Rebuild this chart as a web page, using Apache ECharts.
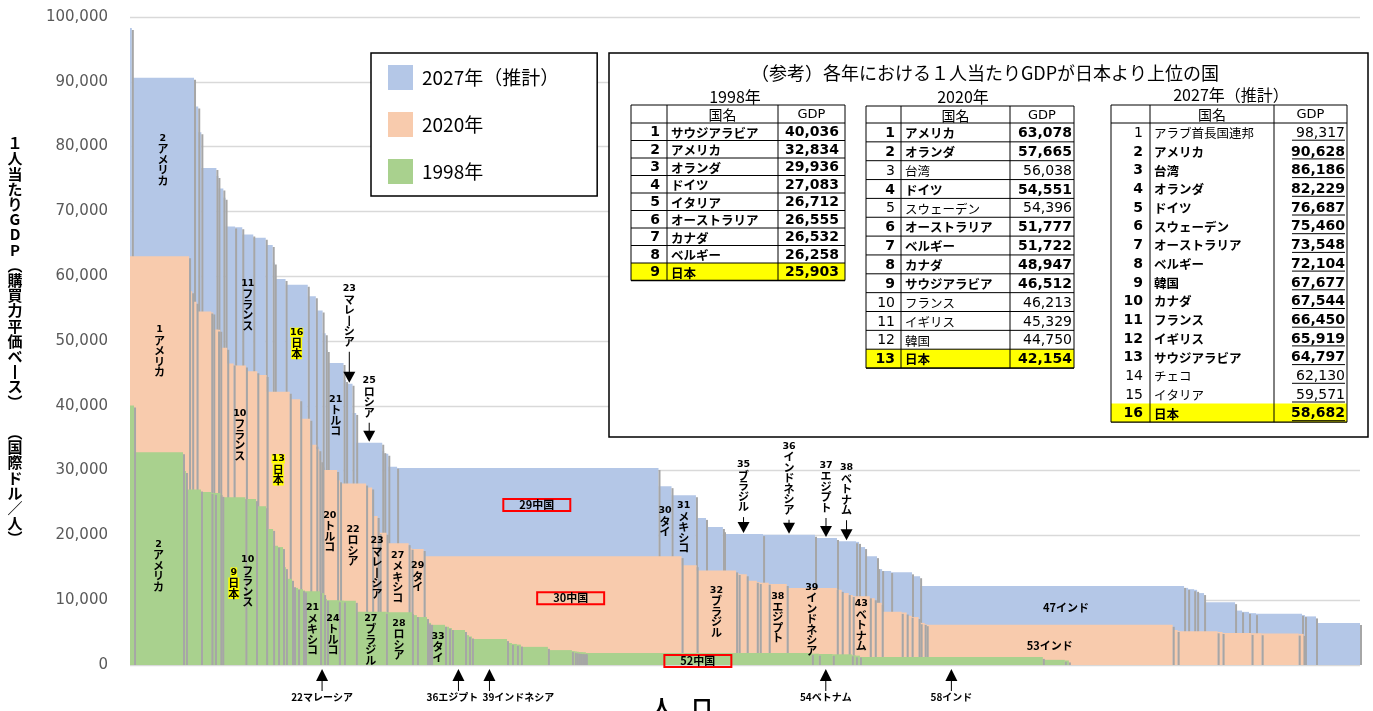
<!DOCTYPE html>
<html>
<head>
<meta charset="utf-8">
<script src="https://cdn.jsdelivr.net/npm/echarts@6/dist/echarts.min.js"></script>
<style>
  html, body { margin: 0; padding: 0; background: #fff; }
  #main { width: 1373px; height: 711px; }
</style>
</head>
<body>
<div id="main"></div>
<script>
// 人口（百万人）と1人当たりGDP（国際ドル）— 各年、GDPの高い順
const pop2027 = [10, 339, 23, 17, 82, 11, 27, 12, 52, 39, 60, 68, 38, 11, 59, 121, 44, 37, 17, 11,
  86, 14, 35, 20, 142, 11, 22, 48, 1425, 71, 133, 55, 92, 6, 213, 283, 120, 104, 16, 33,
  65, 6, 22, 49, 114, 44, 1439, 22, 33, 16, 38, 169, 38, 38, 38, 251, 16, 60, 240];
const gdp2027 = [98317, 90628, 86186, 82229, 76687, 75460, 73548, 72104, 67677, 67544, 66450, 65919, 64797, 62130, 59571, 58682, 56900, 54700, 51200, 48600,
  46600, 44000, 43400, 38900, 34300, 33000, 32600, 30600, 30400, 27600, 26200, 22700, 21300, 20800, 20200, 20100, 19600, 19100, 19000, 18200,
  16800, 15100, 14800, 14500, 14300, 13700, 12200, 11900, 11700, 11600, 11100, 9700, 8400, 8200, 8000, 7900, 7700, 7500, 6500];

const pop2020 = [322, 17, 24, 80, 11, 26, 12, 38, 35, 67, 62, 51, 126, 57, 55, 33, 16, 11, 6, 80,
  16, 142, 33, 30, 11, 38, 120, 16, 66, 1406, 82, 215, 14, 44, 55, 16, 49, 98, 273, 27,
  38, 22, 93, 27, 38, 109, 27, 27, 38, 11, 22, 11, 1341, 27, 218, 27, 158, 55, 202, 27];
const gdp2020 = [63078, 57665, 56038, 54551, 54396, 51777, 51722, 48947, 46512, 46213, 45329, 44750, 42154, 41000, 38000, 34000, 33300, 31600, 30800, 30100,
  28500, 28000, 27400, 23000, 20500, 20400, 18800, 18100, 17900, 16800, 15400, 14600, 14200, 14000, 13000, 12800, 12700, 12500, 11900, 11600,
  11100, 10800, 10600, 10300, 9600, 8200, 8100, 7600, 7400, 6600, 6500, 6300, 6200, 5400, 5200, 5100, 4950, 4900, 4850, 4800];

const pop1998 = [22, 267, 16, 82, 57, 19, 30, 10, 126, 58, 55, 38, 27, 27, 16, 33, 11, 22, 27, 11,
  82, 22, 16, 65, 27, 65, 164, 142, 27, 55, 11, 11, 76, 22, 16, 71, 22, 16, 191, 27,
  27, 22, 147, 131, 16, 11, 11, 11, 11, 11, 5, 1232, 38, 76, 104, 22, 22, 997, 120, 22];
const gdp1998 = [40036, 32834, 29936, 27083, 26712, 26555, 26532, 26258, 25903, 25600, 24500, 21000, 18400, 18200, 15100, 13300, 12300, 11900, 11700, 11500,
  11400, 11100, 10200, 10000, 9950, 9900, 8200, 8150, 7700, 7400, 6600, 6500, 6200, 5900, 5700, 5400, 4600, 4400, 4000, 3400,
  3250, 3150, 2800, 2300, 2150, 2100, 2050, 2000, 1990, 1970, 1950, 1850, 1750, 1700, 1650, 1500, 1450, 1250, 800, 700];

// 図中の国名ラベル [順位, 国名]
const labels2027 = [[2, 'アメリカ'], [11, 'フランス'], [16, '日本'], [21, 'トルコ'], [23, 'マレーシア'], [25, 'ロシア'], [29, '中国'],
  [30, 'タイ'], [31, 'メキシコ'], [35, 'ブラジル'], [36, 'インドネシア'], [37, 'エジプト'], [38, 'ベトナム'], [47, 'インド']];
const labels2020 = [[1, 'アメリカ'], [10, 'フランス'], [13, '日本'], [20, 'トルコ'], [22, 'ロシア'], [23, 'マレーシア'], [27, 'メキシコ'],
  [29, 'タイ'], [30, '中国'], [32, 'ブラジル'], [38, 'エジプト'], [39, 'インドネシア'], [43, 'ベトナム'], [53, 'インド']];
const labels1998 = [[2, 'アメリカ'], [9, '日本'], [10, 'フランス'], [21, 'メキシコ'], [22, 'マレーシア'], [24, 'トルコ'], [27, 'ブラジル'],
  [28, 'ロシア'], [33, 'タイ'], [36, 'エジプト'], [39, 'インドネシア'], [52, '中国'], [54, 'ベトナム'], [58, 'インド']];

// 参考表
const t98Names = ['サウジアラビア', 'アメリカ', 'オランダ', 'ドイツ', 'イタリア', 'オーストラリア', 'カナダ', 'ベルギー', '日本'];
const t98Gdp = [40036, 32834, 29936, 27083, 26712, 26555, 26532, 26258, 25903];
const t20Names = ['アメリカ', 'オランダ', '台湾', 'ドイツ', 'スウェーデン', 'オーストラリア', 'ベルギー', 'カナダ', 'サウジアラビア', 'フランス', 'イギリス', '韓国', '日本'];
const t20Gdp = [63078, 57665, 56038, 54551, 54396, 51777, 51722, 48947, 46512, 46213, 45329, 44750, 42154];
const t20Bold = [1, 1, 0, 1, 0, 1, 1, 1, 1, 0, 0, 0, 1];
const t27Names = ['アラブ首長国連邦', 'アメリカ', '台湾', 'オランダ', 'ドイツ', 'スウェーデン', 'オーストラリア', 'ベルギー', '韓国', 'カナダ', 'フランス', 'イギリス', 'サウジアラビア', 'チェコ', 'イタリア', '日本'];
const t27Gdp = [98317, 90628, 86186, 82229, 76687, 75460, 73548, 72104, 67677, 67544, 66450, 65919, 64797, 62130, 59571, 58682];
const t27Bold = [0, 1, 1, 1, 1, 1, 1, 1, 1, 1, 1, 1, 1, 0, 0, 1];

const seriesNames = ['2027年（推計）', '2020年', '1998年'];
const colors = ['#B4C7E7', '#F8CBAD', '#A9D18E'];
const JP = '"Noto Sans CJK JP", sans-serif';
const NUM = '"DejaVu Sans", "Noto Sans CJK JP", sans-serif';

// ラベルの置き方（k: in=棒の中 / up=上から矢印 / down=下から矢印 / box=赤枠 / h=横書き）
const place = {
  '2027-2': { k: 'in', y: 78000 }, '2027-11': { k: 'in', y: 55700 }, '2027-16': { k: 'in', y: 49700, jp: 1 },
  '2027-21': { k: 'in', y: 38600 }, '2027-23': { k: 'up', gap: 37 }, '2027-25': { k: 'up', gap: 25 },
  '2027-29': { k: 'box', y: 24700, dx: 9 }, '2027-30': { k: 'in', y: 22200 }, '2027-31': { k: 'in', y: 21300 },
  '2027-35': { k: 'up', gap: 22 }, '2027-36': { k: 'up', gap: 20 }, '2027-37': { k: 'up', gap: 25 },
  '2027-38': { k: 'up', gap: 26 }, '2027-47': { k: 'h', y: 8800, dx: 14 },
  '2020-1': { k: 'in', y: 48500 }, '2020-10': { k: 'in', y: 35600 }, '2020-13': { k: 'in', y: 30200, jp: 1 },
  '2020-20': { k: 'in', y: 20700 }, '2020-22': { k: 'in', y: 18500 }, '2020-23': { k: 'in', y: 15100, dx: 8 },
  '2020-27': { k: 'in', y: 13700 }, '2020-29': { k: 'in', y: 13700 }, '2020-30': { k: 'box', y: 10300, dx: 18 },
  '2020-32': { k: 'in', y: 8300 }, '2020-38': { k: 'in', y: 7400 }, '2020-39': { k: 'in', y: 7100 },
  '2020-43': { k: 'in', y: 6200 }, '2020-53': { k: 'h', y: 2900 },
  '1998-2': { k: 'in', y: 15400 }, '1998-9': { k: 'in', y: 12700, jp: 1 }, '1998-10': { k: 'in', y: 13000, dx: -3 },
  '1998-21': { k: 'in', y: 5600 }, '1998-22': { k: 'down' }, '1998-24': { k: 'in', y: 4800 },
  '1998-27': { k: 'in', y: 4000 }, '1998-28': { k: 'in', y: 4000 }, '1998-33': { k: 'in', y: 2800 },
  '1998-36': { k: 'down', dx: -6 }, '1998-39': { k: 'down', dx: 29 }, '1998-52': { k: 'box', y: 620, dx: -1 },
  '1998-54': { k: 'down' }, '1998-58': { k: 'down' }
};

function cumulate(pops, vals) {
  let acc = 0;
  return pops.map((p, i) => { const a = acc; acc += p; return [a, acc, vals[i]]; });
}
const bars2027 = cumulate(pop2027, gdp2027);
const bars2020 = cumulate(pop2020, gdp2020);
const bars1998 = cumulate(pop1998, gdp1998);
const xMax = bars2027[bars2027.length - 1][1];

function buildNotes(year, bars, list) {
  return list.map(([rank, name]) => {
    const b = bars[rank - 1];
    return Object.assign({ rank, name, x: (b[0] + b[1]) / 2, v: b[2], dx: 0 }, place[year + '-' + rank]);
  });
}
const notes = [].concat(
  buildNotes('2027', bars2027, labels2027),
  buildNotes('2020', bars2020, labels2020),
  buildNotes('1998', bars1998, labels1998)
);

const rich = {
  n: { fontSize: 9.5, fontWeight: 'bold', lineHeight: 11, fontFamily: NUM, fill: '#000' },
  c: { fontSize: 11, fontWeight: 'bold', lineHeight: 10.5, fontFamily: JP, fill: '#000' },
  nj: { fontSize: 9.5, fontWeight: 'bold', lineHeight: 11, fontFamily: NUM, fill: '#000', backgroundColor: '#FFFF00' },
  cj: { fontSize: 11, fontWeight: 'bold', lineHeight: 10.5, fontFamily: JP, fill: '#000', backgroundColor: '#FFFF00' }
};
function vtext(rank, name, jp) {
  const chars = Array.from(name).map(ch => (ch === 'ー' ? '丨' : ch));
  const n = jp ? 'nj' : 'n', c = jp ? 'cj' : 'c';
  return '{' + n + '|' + rank + '}\n' + chars.map(ch => '{' + c + '|' + ch + '}').join('\n');
}

function barRender(color) {
  return function (params, api) {
    const p0 = api.coord([api.value(0), api.value(2)]);
    const p1 = api.coord([api.value(1), 0]);
    const h = p1[1] - p0[1];
    return {
      type: 'group',
      children: [
        { type: 'rect', z2: 0, shape: { x: p0[0], y: p0[1], width: p1[0] - p0[0], height: h }, style: { fill: color } },
        { type: 'rect', z2: 1, shape: { x: p1[0], y: p0[1] + 2, width: 2, height: Math.max(h - 2, 0) }, style: { fill: '#A6A6A6' } }
      ]
    };
  };
}

function noteRender(params, api) {
  const n = notes[params.dataIndex];
  const top = api.coord([n.x, n.v]);
  const base = api.coord([n.x, 0]);
  const cx = top[0] + n.dx;
  const font = { fontFamily: JP, fontWeight: 'bold', fill: '#000' };
  if (n.k === 'in') {
    const y = api.coord([n.x, n.y])[1];
    return { type: 'text', x: cx, y: y, style: { text: vtext(n.rank, n.name, n.jp), rich: rich, align: 'center', verticalAlign: 'middle' } };
  }
  if (n.k === 'up') {
    const ty = top[1] - n.gap;
    return {
      type: 'group',
      children: [
        { type: 'text', x: top[0], y: ty, style: { text: vtext(n.rank, n.name, false), rich: rich, align: 'center', verticalAlign: 'bottom' } },
        { type: 'line', shape: { x1: top[0], y1: ty + 5, x2: top[0], y2: top[1] - 11 }, style: { stroke: '#000', lineWidth: 1 } },
        { type: 'polygon', shape: { points: [[top[0] - 6, top[1] - 12], [top[0] + 6, top[1] - 12], [top[0], top[1] - 1]] }, style: { fill: '#000' } }
      ]
    };
  }
  if (n.k === 'down') {
    const ay = base[1];
    return {
      type: 'group',
      children: [
        { type: 'polygon', shape: { points: [[base[0], ay + 4], [base[0] - 6, ay + 16], [base[0] + 6, ay + 16]] }, style: { fill: '#000' } },
        { type: 'line', shape: { x1: base[0], y1: ay + 16, x2: base[0], y2: ay + 26 }, style: { stroke: '#000', lineWidth: 1 } },
        { type: 'text', x: base[0] + n.dx, y: ay + 32, style: Object.assign({ text: n.rank + n.name, fontSize: 10, align: 'center', verticalAlign: 'middle' }, font) }
      ]
    };
  }
  const y = api.coord([n.x, n.y])[1];
  const s = Object.assign({ text: n.rank + n.name, fontSize: 11, align: 'center', verticalAlign: 'middle' }, font);
  if (n.k === 'box') Object.assign(s, { borderColor: '#FF0000', borderWidth: 2, padding: [1, 16, 0, 16] });
  return { type: 'text', x: cx, y: y, style: s };
}

// 参考表のgraphic要素
function gText(x, y, text, font, align) {
  return { type: 'text', z: 5, x: x, y: y, style: { text: text, font: font, fill: '#000', align: align, verticalAlign: 'middle' } };
}
function gLine(x1, y1, x2, y2, w) {
  return { type: 'line', z: 5, shape: { x1: x1, y1: y1, x2: x2, y2: y2 }, style: { stroke: '#000', lineWidth: w || 1 } };
}
function makeTable(t, names, gdps, bolds) {
  const fills = [], els = [];
  const [c0, c1, c2, c3] = t.cols;
  const bottom = t.top + t.head + names.length * t.row;
  els.push(gText(t.tx, t.ty, t.title, '16px ' + JP, 'center'));
  els.push(gText((c1 + c2) / 2, t.top + t.head / 2 + 1, '国名', '14px ' + JP, 'center'));
  els.push(gText((c2 + c3) / 2, t.top + t.head / 2 + 1, 'GDP', '13px ' + NUM, 'center'));
  names.forEach((nm, i) => {
    const y0 = t.top + t.head + i * t.row, yc = y0 + t.row / 2 + 1;
    if (nm === '日本') fills.push({ type: 'rect', z: 5, shape: { x: c0, y: y0, width: c3 - c0, height: t.row }, style: { fill: '#FFFF00' } });
    const w = bolds[i] ? 'bold ' : '';
    els.push(gText(c1 - t.padR, yc, String(i + 1), w + '14px ' + NUM, 'right'));
    els.push(gText(c1 + 4, yc, nm, w + '12.5px ' + JP, 'left'));
    els.push(gText(c3 - t.padG, yc, gdps[i].toLocaleString('en-US'), w + '14px ' + NUM, 'right'));
    if (t.grid) els.push(gLine(c0, y0 + t.row, c3, y0 + t.row));
    else els.push(gLine(c2 + 18, y0 + t.row - 1.5, c3 - 2, y0 + t.row - 1.5));
  });
  els.push(gLine(c0, t.top, c3, t.top), gLine(c0, t.top + t.head, c3, t.top + t.head), gLine(c0, bottom, c3, bottom, 1.3));
  [c0, c1, c2, c3].forEach(c => els.push(gLine(c, t.top, c, bottom)));
  return fills.concat(els);
}

const tableLayout98 = { title: '1998年', tx: 735, ty: 97, cols: [631, 667, 778, 845], top: 105, head: 18, row: 17.5, padR: 7, padG: 6, grid: true };
const tableLayout20 = { title: '2020年', tx: 963, ty: 97, cols: [866, 901, 1010, 1074], top: 106, head: 17, row: 18.85, padR: 6, padG: 2, grid: true };
const tableLayout27 = { title: '2027年（推計）', tx: 1231, ty: 95, cols: [1111, 1150, 1274, 1347], top: 105, head: 18, row: 18.7, padR: 7, padG: 2, grid: false };

const graphics = [
  { type: 'rect', z: 5, shape: { x: 609, y: 53, width: 759, height: 384 }, style: { fill: '#fff', stroke: '#000', lineWidth: 1.5 } },
  gText(985, 73, '（参考）各年における１人当たりGDPが日本より上位の国', '18px ' + JP, 'center')
].concat(
  makeTable(tableLayout98, t98Names, t98Gdp, t98Names.map(() => 1)),
  makeTable(tableLayout20, t20Names, t20Gdp, t20Bold),
  makeTable(tableLayout27, t27Names, t27Gdp, t27Bold)
);

const yName = ['１', '人', '当', 'た', 'り', 'G', 'D', 'P', '︵', '購', '買', '力', '平', '価', 'ベ', '丨', 'ス', '︶', '',
  '︵', '国', '際', 'ド', 'ル', '／', '人', '︶'].join('\n');

const chart = echarts.init(document.getElementById('main'));
const option = {
  animation: false,
  grid: { left: 130, right: 13, top: 17, bottom: 46, outerBoundsMode: 'none' },
  legend: {
    data: seriesNames,
    orient: 'vertical',
    left: 371, top: 53,
    itemWidth: 25, itemHeight: 25, itemGap: 22,
    padding: [12, 38, 12, 17],
    borderColor: '#000', borderWidth: 1.5,
    backgroundColor: '#fff',
    icon: 'rect',
    selectedMode: false,
    textStyle: { fontSize: 19, fontFamily: JP, color: '#000', padding: [0, 0, 0, 4] }
  },
  xAxis: {
    type: 'value', min: 0, max: xMax,
    axisLine: { show: false }, axisTick: { show: false }, axisLabel: { show: false }, splitLine: { show: false },
    name: '人　口', nameLocation: 'middle', nameGap: 32,
    nameTextStyle: { fontSize: 20, fontWeight: 'bold', fontFamily: JP, color: '#000', padding: [0, 126, 0, 0] }
  },
  yAxis: {
    type: 'value', min: 0, max: 100000, interval: 10000,
    axisLine: { show: false }, axisTick: { show: false },
    axisLabel: { fontSize: 15, color: '#595959', fontFamily: 'DejaVu Sans', margin: 22, formatter: v => v.toLocaleString('en-US') },
    splitLine: { lineStyle: { color: '#D9D9D9', width: 1.3 } },
    name: yName, nameLocation: 'middle', nameRotate: 0, nameGap: 115,
    nameTextStyle: { fontSize: 15, fontWeight: 'bold', fontFamily: JP, color: '#000', lineHeight: 15.2, align: 'center', verticalAlign: 'middle', padding: [14, 0, 0, 0] }
  },
  graphic: { elements: graphics },
  series: [
    { name: seriesNames[0], type: 'custom', z: 2, itemStyle: { color: colors[0] }, encode: { x: [0, 1], y: 2 }, data: bars2027, renderItem: barRender(colors[0]) },
    { name: seriesNames[1], type: 'custom', z: 3, itemStyle: { color: colors[1] }, encode: { x: [0, 1], y: 2 }, data: bars2020, renderItem: barRender(colors[1]) },
    { name: seriesNames[2], type: 'custom', z: 4, itemStyle: { color: colors[2] }, encode: { x: [0, 1], y: 2 }, data: bars1998, renderItem: barRender(colors[2]) },
    { name: 'labels', type: 'custom', z: 10, clip: false, silent: true, encode: { x: 0, y: 1 },
      data: notes.map(n => [n.x, n.y !== undefined ? n.y : n.v]), renderItem: noteRender }
  ]
};
chart.setOption(option);
</script>
</body>
</html>
